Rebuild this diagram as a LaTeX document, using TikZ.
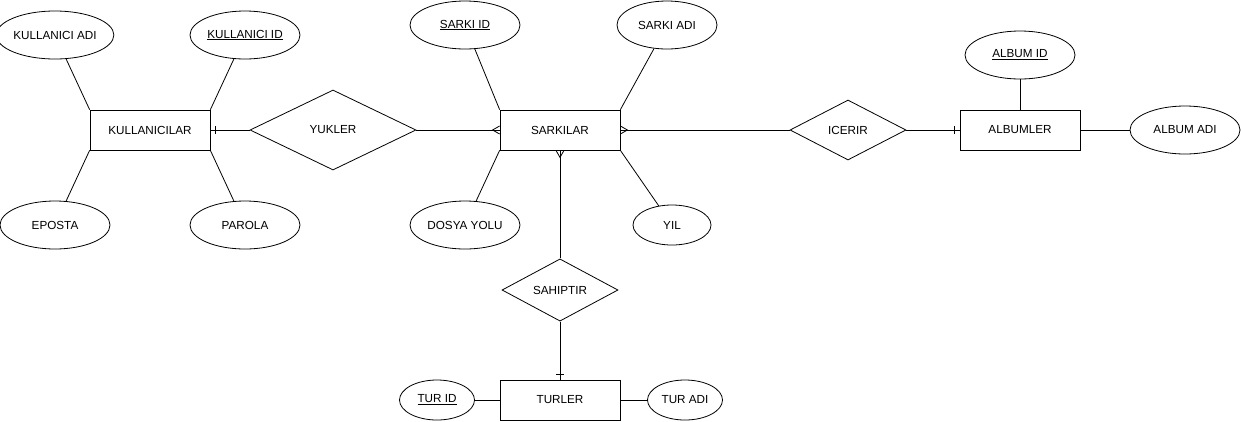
\documentclass[tikz,border=0pt]{standalone}
\usepackage{fontspec}
\setmainfont{Liberation Sans}
\usetikzlibrary{shapes.geometric,calc}
\begin{document}
\begin{tikzpicture}[x=1pt,y=-1pt,
  every node/.style={font=\fontsize{11.7}{14}\selectfont, inner sep=0pt, draw, line width=0.8pt},
  attr/.style={ellipse, minimum width=110pt, minimum height=48pt},
  sattr/.style={ellipse, minimum width=76pt, minimum height=40pt},
  ent/.style={rectangle, minimum width=120pt, minimum height=40pt},
  rel/.style={diamond, minimum width=#1, minimum height=60pt},
  conn/.style={line width=0.8pt}]
\path[use as bounding box] (0,0) rectangle (1241,421);
% entities
\node[ent] (kul) at (150,130) {KULLANICILAR};
\node[ent] (sar) at (560,130) {SARKILAR};
\node[ent] (alb) at (1020,130) {ALBUMLER};
\node[ent] (tur) at (560,400) {TURLER};
% relations
\node[diamond, minimum width=166pt, minimum height=80pt] (yuk) at (333,130) {YUKLER};
\node[rel=116pt] (ice) at (848,130) {ICERIR};
\node[rel=116pt] (sah) at (560,290) {SAHIPTIR};
% attributes
\node[attr] (kad) at (55,35) {KULLANICI ADI};
\node[attr] (kid) at (245,35) {\underline{KULLANICI ID}};
\node[attr] (eps) at (55,225) {EPOSTA};
\node[attr] (par) at (245,225) {PAROLA};
\node[attr] (sid) at (465,25) {\underline{SARKI ID}};
\node[attr, minimum width=100pt] (sad) at (667,25) {SARKI ADI};
\node[attr] (dos) at (465,225) {DOSYA YOLU};
\node[sattr, minimum width=78pt] (yil) at (672,225) {YIL};
\node[attr] (aid) at (1020,55) {\underline{ALBUM ID}};
\node[attr] (aad) at (1185,130) {ALBUM ADI};
\node[sattr, minimum width=75pt] (tid) at (437,400) {\underline{TUR ID}};
\node[sattr, minimum width=75pt] (tad) at (685,400) {TUR ADI};
% attribute links
\draw[conn] (kad) -- (kul.north west);
\draw[conn] (kid) -- (kul.north east);
\draw[conn] (eps) -- (kul.south west);
\draw[conn] (par) -- (kul.south east);
\draw[conn] (sid) -- (sar.north west);
\draw[conn] (sad) -- (sar.north east);
\draw[conn] (dos) -- (sar.south west);
\draw[conn] (yil) -- (sar.south east);
\draw[conn] (aid) -- (alb);
\draw[conn] (alb) -- (aad);
\draw[conn] (tid) -- (tur);
\draw[conn] (tur) -- (tad);
% relationship links
\draw[conn] (kul.east) -- (yuk.west);
\draw[conn] ($(kul.east)+(5,-4)$) -- ++(0,8);
\draw[conn] (yuk.east) -- (sar.west);
\draw[conn] ($(sar.west)+(0,-4)$) -- ($(sar.west)+(-7,0)$) -- ($(sar.west)+(0,4)$);
\draw[conn] (sar.east) -- (ice.west);
\draw[conn] ($(sar.east)+(0,-4)$) -- ($(sar.east)+(7,0)$) -- ($(sar.east)+(0,4)$);
\draw[conn] (ice.east) -- (alb.west);
\draw[conn] ($(alb.west)+(-5,-4)$) -- ++(0,8);
\draw[conn] (sar.south) -- (sah.north);
\draw[conn] ($(sar.south)+(-4,0)$) -- ($(sar.south)+(0,7)$) -- ($(sar.south)+(4,0)$);
\draw[conn] (sah.south) -- (tur.north);
\draw[conn] ($(tur.north)+(-4,-5)$) -- ++(8,0);
\end{tikzpicture}
\end{document}
